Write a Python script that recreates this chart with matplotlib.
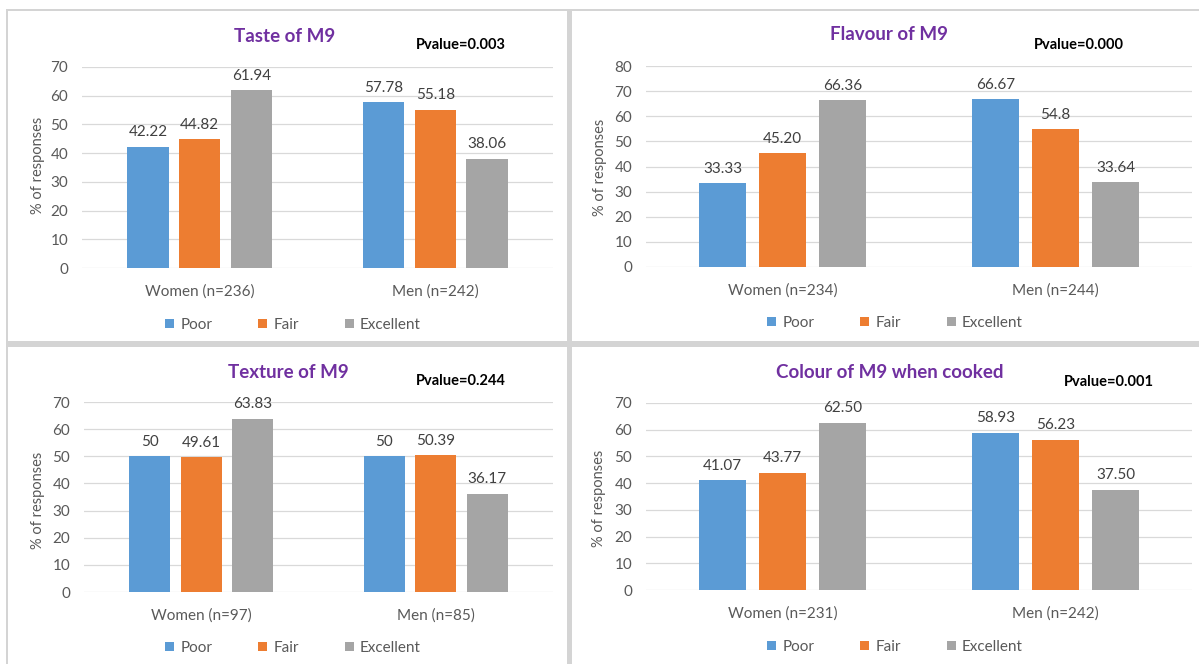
import numpy as np
import matplotlib
matplotlib.use("Agg")
import matplotlib.pyplot as plt
from matplotlib.patches import Rectangle, Patch

plt.rcParams['font.family'] = ['Lato', 'DejaVu Sans']

# Data
groups_taste = ["Women (n=236)", "Men (n=242)"]
groups_flavour = ["Women (n=234)", "Men (n=244)"]
groups_texture = ["Women (n=97)", "Men (n=85)"]
groups_colour = ["Women (n=231)", "Men (n=242)"]

series = ["Poor", "Fair", "Excellent"]

taste_poor = [42.22, 57.78]
taste_fair = [44.82, 55.18]
taste_exc = [61.94, 38.06]
taste_labels = [["42.22", "57.78"], ["44.82", "55.18"], ["61.94", "38.06"]]

flavour_poor = [33.33, 66.67]
flavour_fair = [45.20, 54.8]
flavour_exc = [66.36, 33.64]
flavour_labels = [["33.33", "66.67"], ["45.20", "54.8"], ["66.36", "33.64"]]

texture_poor = [50, 50]
texture_fair = [49.61, 50.39]
texture_exc = [63.83, 36.17]
texture_labels = [["50", "50"], ["49.61", "50.39"], ["63.83", "36.17"]]

colour_poor = [41.07, 58.93]
colour_fair = [43.77, 56.23]
colour_exc = [62.50, 37.50]
colour_labels = [["41.07", "58.93"], ["43.77", "56.23"], ["62.50", "37.50"]]

titles = ["Taste of M9", "Flavour of M9", "Texture of M9", "Colour of M9 when cooked"]
pvalues = ["Pvalue=0.003", "Pvalue=0.000", "Pvalue=0.244", "Pvalue=0.001"]

colors = ["#5B9BD5", "#ED7D31", "#A5A5A5"]
W, H = 1199, 664

fig = plt.figure(figsize=(W / 100, H / 100), dpi=100)
fig.patch.set_facecolor("white")


def px_rect(l, t, r, b):
    return [l / W, 1 - b / H, (r - l) / W, (b - t) / H]


# panel frames (behind the axes)
fig.patches.append(Rectangle((6 / W, 0), (W - 6) / W, 1 - 9 / H, transform=fig.transFigure,
                             facecolor="#d4d4d4", edgecolor="none", zorder=-20))
for l, t, r, b in [(8, 11, 567, 341), (572, 11, W, 341), (8, 347, 567, H), (572, 347, W, H)]:
    x0, y0, w, h = px_rect(l, t, r, b)
    fig.patches.append(Rectangle((x0, y0), w, h, transform=fig.transFigure,
                                 facecolor="white", edgecolor="none", zorder=-10))

panels = [
    dict(rect=(82, 67, 553, 268), ymax=70, groups=groups_taste,
         vals=[taste_poor, taste_fair, taste_exc], labels=taste_labels,
         title=(285, 36), pval=(461, 45), ylab=(38, 165), legend=(293, 325)),
    dict(rect=(646, 66, 1192, 267), ymax=80, groups=groups_flavour,
         vals=[flavour_poor, flavour_fair, flavour_exc], labels=flavour_labels,
         title=(889, 35), pval=(1079, 45), ylab=(600, 167), legend=(895, 323)),
    dict(rect=(84, 402, 553, 592), ymax=70, groups=groups_texture,
         vals=[texture_poor, texture_fair, texture_exc], labels=texture_labels,
         title=(288, 372), pval=(461, 381), ylab=(38, 500), legend=(293, 648)),
    dict(rect=(646, 403, 1192, 590), ymax=70, groups=groups_colour,
         vals=[colour_poor, colour_fair, colour_exc], labels=colour_labels,
         title=(890, 373), pval=(1109, 382), ylab=(599, 498), legend=(895, 647)),
]

offsets = [-0.22, 0.0, 0.22]
x = np.arange(2)

for i, p in enumerate(panels):
    ax = fig.add_axes(px_rect(*p["rect"]))
    ax.set_facecolor("none")
    for s in range(3):
        bars = ax.bar(x + offsets[s], p["vals"][s], width=0.175, color=colors[s], zorder=3)
        for bar, lab in zip(bars, p["labels"][s]):
            ax.annotate(lab, (bar.get_x() + bar.get_width() / 2, bar.get_height()),
                        xytext=(0, 10.5), textcoords="offset points", ha="center", va="center",
                        fontsize=11, color="#404040", annotation_clip=False)
    ax.set_xlim(-0.5, 1.5)
    ax.set_ylim(0, p["ymax"])
    ax.set_yticks(np.arange(0, p["ymax"] + 1, 10))
    ax.set_xticks(x)
    ax.set_xticklabels(p["groups"])
    ax.grid(axis="y", color="#d9d9d9", linewidth=0.9, zorder=0)
    ax.set_axisbelow(True)
    for sp in ax.spines.values():
        sp.set_visible(False)
    ax.tick_params(axis="y", length=0, pad=10, labelsize=11, labelcolor="#595959")
    ax.tick_params(axis="x", length=0, pad=12, labelsize=11, labelcolor="#595959")

    fig.text(p["ylab"][0] / W, 1 - p["ylab"][1] / H, "% of responses", rotation=90,
             ha="center", va="center", fontsize=10.5, color="#595959")
    fig.text(p["title"][0] / W, 1 - p["title"][1] / H, titles[i], ha="center", va="center",
             fontsize=13.5, fontweight="bold", color="#7030A0")
    fig.text(p["pval"][0] / W, 1 - p["pval"][1] / H, pvalues[i], ha="center", va="center",
             fontsize=10.5, fontweight="bold", color="black")

    handles = [Patch(facecolor=c, edgecolor="none") for c in colors]
    fig.legend(handles, series, loc="center",
               bbox_to_anchor=(p["legend"][0] / W, 1 - p["legend"][1] / H),
               ncol=3, frameon=False, fontsize=11, handlelength=0.6, handleheight=0.6,
               handletextpad=0.4, columnspacing=3.0, labelcolor="#595959")

fig.savefig("out.png", dpi=100)
